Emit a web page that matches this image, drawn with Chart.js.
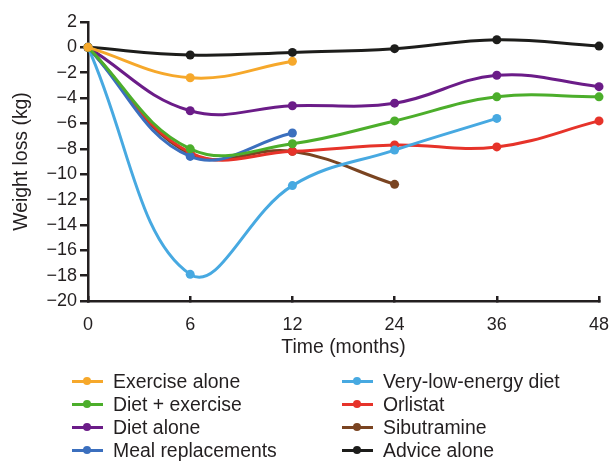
<!DOCTYPE html>
<html><head><meta charset="utf-8">
<script src="https://cdn.jsdelivr.net/npm/chart.js@4"></script>
<style>
html,body{margin:0;padding:0;background:#fff;}
#wrap{position:relative;width:611px;height:461px;overflow:hidden;}
canvas{position:absolute;left:0;top:0;}
#legend{position:absolute;left:0;top:0;width:611px;height:461px;font-family:"Liberation Sans",Arial,sans-serif;font-size:19.4px;color:#231f20;}
.item{position:absolute;height:22px;line-height:22px;white-space:nowrap;}
.sw{position:absolute;left:0;top:9.5px;width:31px;height:3px;}
.dot{position:absolute;left:11px;top:7px;width:8px;height:8px;border-radius:50%;}
.lbl{position:absolute;left:41px;top:0;}
</style></head>
<body><div id="wrap"><canvas id="c" width="611" height="461"></canvas><div id="legend"></div></div>
<script>
const months = ['0', '6', '12', '24', '36', '48'];
const seriesNames = ['Exercise alone', 'Diet + exercise', 'Diet alone', 'Meal replacements',
  'Very-low-energy diet', 'Orlistat', 'Sibutramine', 'Advice alone'];
const exerciseAlone     = [0, -2.4, -1.1, null, null, null];
const dietExercise      = [0, -8.0, -7.6, -5.8, -3.9, -3.9];
const dietAlone         = [0, -5.0, -4.6, -4.4, -2.2, -3.1];
const mealReplacements  = [0, -8.6, -6.75, null, null, null];
const veryLowEnergyDiet = [0, -17.9, -10.9, -8.1, -5.6, null];
const orlistat          = [0, -8.3, -8.2, -7.7, -7.85, -5.8];
const sibutramine       = [0, -8.4, -8.2, -10.8, null, null];
const adviceAlone       = [0, -0.6, -0.4, -0.1, 0.6, 0.1];
const yTickValues = [2, 0, -2, -4, -6, -8, -10, -12, -14, -16, -18, -20];

const seriesData = [exerciseAlone, dietExercise, dietAlone, mealReplacements,
  veryLowEnergyDiet, orlistat, sibutramine, adviceAlone];
const seriesColors = ['#F6A82B', '#4CAE2B', '#6B1C88', '#3B6FBE',
  '#47A9E1', '#E6332A', '#7A4421', '#1D1D1B'];

const FONT = '"Liberation Sans", Arial, sans-serif';
const INK = '#231f20';

const datasets = seriesNames.map((name, i) => ({
  label: name,
  data: seriesData[i],
  borderColor: seriesColors[i],
  backgroundColor: seriesColors[i],
  pointBackgroundColor: seriesColors[i],
  pointBorderWidth: 0,
  pointRadius: 4.5,
  borderWidth: 3,
  tension: 0.4,
  fill: false,
  clip: false
}));

new Chart(document.getElementById('c'), {
  type: 'line',
  data: { labels: months, datasets },
  options: {
    responsive: false,
    animation: false,
    events: [],
    layout: { padding: { left: 0, right: 0, top: 22, bottom: 100 } },
    plugins: { legend: { display: false }, tooltip: { enabled: false } },
    scales: {
      x: {
        type: 'category',
        offset: false,
        afterFit: s => { s.height = 60; s.paddingRight = 12; s.paddingLeft = 0; },
        border: { display: true, color: INK, width: 2.5 },
        grid: { display: true, drawOnChartArea: false, tickLength: -5, color: INK, lineWidth: 2.5 },
        ticks: { color: INK, font: { family: FONT, size: 18 }, padding: 18, maxRotation: 0 },
        title: { display: true, text: 'Time (months)', color: INK, font: { family: FONT, size: 19.4 }, padding: { top: 0, bottom: 2 } }
      },
      y: {
        min: -20, max: 2,
        afterFit: s => { s.width = 88; },
        afterBuildTicks: s => { s.ticks = yTickValues.map(v => ({ value: v })); },
        border: { display: true, color: INK, width: 2.5 },
        grid: { display: true, drawOnChartArea: false, tickLength: 8, color: INK, lineWidth: 2.5 },
        ticks: {
          color: INK, font: { family: FONT, size: 18 }, padding: 3,
          callback: v => (v < 0 ? '\u2212' + Math.abs(v) : String(v))
        },
        title: { display: true, text: 'Weight loss (kg)', color: INK, font: { family: FONT, size: 19.4 }, padding: { top: 10, bottom: 0 } }
      }
    }
  }
});

// legend (two columns, column-major)
const leg = document.getElementById('legend');
const colLeft = [72, 342];
const rowCenters = [381, 404, 427, 450];
seriesNames.forEach((name, i) => {
  const col = Math.floor(i / 4), row = i % 4;
  const it = document.createElement('div');
  it.className = 'item';
  it.style.left = colLeft[col] + 'px';
  it.style.top = (rowCenters[row] - 11) + 'px';
  it.innerHTML = '<div class="sw" style="background:' + seriesColors[i] + '"></div>' +
    '<div class="dot" style="background:' + seriesColors[i] + '"></div>' +
    '<div class="lbl"></div>';
  it.querySelector('.lbl').textContent = name;
  leg.appendChild(it);
});
</script>
</body></html>
